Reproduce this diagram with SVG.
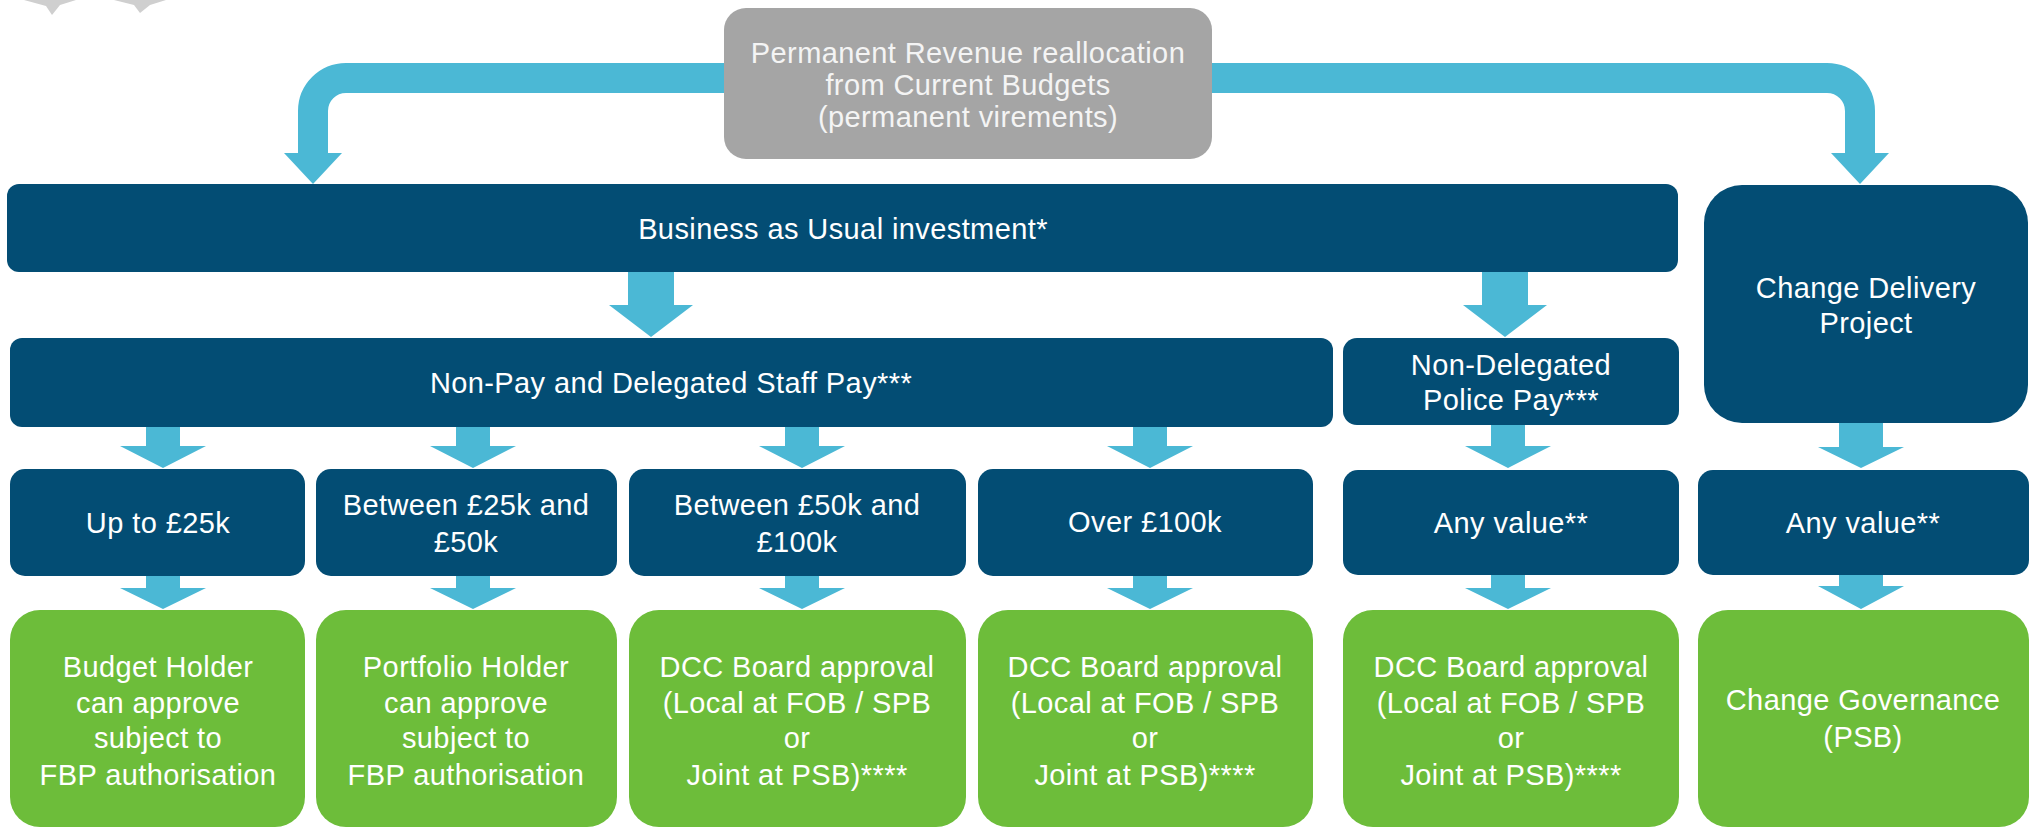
<svg xmlns="http://www.w3.org/2000/svg" width="2034" height="829" viewBox="0 0 2034 829">
<style>
  .navy { fill: #034d74; }
  .green { fill: #6dbd3a; }
  .grey { fill: #a5a5a5; }
  .arrow { fill: #4bb8d5; }
  .logo { fill: #cfcfcf; }
  .link { fill: none; stroke: #4bb8d5; stroke-width: 30; stroke-linecap: butt; }
  text { font-family: "Liberation Sans", Arial, sans-serif; font-size: 29px; letter-spacing: 0.4px; fill: #ffffff; text-anchor: middle; }
  .gt { fill: #f4f4f4; }
</style>
<rect width="2034" height="829" fill="#ffffff"/>

<g id="logo-fragment">
  <polygon class="logo" points="24,0 76,0 60,5 52,15 46,6"/>
  <polygon class="logo" points="114,0 166,0 150,5 140,13 134,5"/>
</g>

<g id="connectors">
  <path class="link" d="M724,78 H346 A33,33 0 0 0 313,111 V154"/>
  <polygon class="arrow" points="284,153 342,153 313,184"/>
  <path class="link" d="M1212,78 H1827 A33,33 0 0 1 1860,111 V154"/>
  <polygon class="arrow" points="1831,153 1889,153 1860,184"/>

  <path class="arrow" d="M628,272 H674 V305 H693 L651,337 L609,305 H628 Z"/>
  <path class="arrow" d="M1482,272 H1528 V305 H1547 L1505,337 L1463,305 H1482 Z"/>

  <path class="arrow" d="M146,427 H180 V446 H206 L163,468 L120,446 H146 Z"/>
  <path class="arrow" d="M456,427 H490 V446 H516 L473,468 L430,446 H456 Z"/>
  <path class="arrow" d="M785,427 H819 V446 H845 L802,468 L759,446 H785 Z"/>
  <path class="arrow" d="M1133,427 H1167 V446 H1193 L1150,468 L1107,446 H1133 Z"/>
  <path class="arrow" d="M1491,425 H1525 V446 H1551 L1508,468 L1465,446 H1491 Z"/>
  <path class="arrow" d="M1839,423 H1883 V447 H1904 L1861,468 L1818,447 H1839 Z"/>

  <path class="arrow" d="M146,576 H180 V588 H206 L163,609 L120,588 H146 Z"/>
  <path class="arrow" d="M456,576 H490 V588 H516 L473,609 L430,588 H456 Z"/>
  <path class="arrow" d="M785,576 H819 V588 H845 L802,609 L759,588 H785 Z"/>
  <path class="arrow" d="M1133,576 H1167 V588 H1193 L1150,609 L1107,588 H1133 Z"/>
  <path class="arrow" d="M1491,575 H1525 V588 H1551 L1508,609 L1465,588 H1491 Z"/>
  <path class="arrow" d="M1839,575 H1883 V586 H1904 L1861,609 L1818,586 H1839 Z"/>
</g>

<g id="source">
  <rect class="grey" x="724" y="8" width="488" height="151" rx="22"/>
  <text class="gt" x="968" y="63">Permanent Revenue reallocation</text>
  <text class="gt" x="968" y="95">from Current Budgets</text>
  <text class="gt" x="968" y="127">(permanent virements)</text>
</g>

<g id="bau">
  <rect class="navy" x="7" y="184" width="1671" height="88" rx="12"/>
  <text x="843" y="239">Business as Usual investment*</text>
</g>

<g id="change-delivery">
  <rect class="navy" x="1704" y="185" width="324" height="238" rx="38"/>
  <text x="1866" y="298">Change Delivery</text>
  <text x="1866" y="333">Project</text>
</g>

<g id="non-pay">
  <rect class="navy" x="10" y="338" width="1323" height="89" rx="12"/>
  <text x="671" y="393">Non-Pay and Delegated Staff Pay***</text>
</g>

<g id="non-delegated">
  <rect class="navy" x="1343" y="338" width="336" height="87" rx="14"/>
  <text x="1511" y="375">Non-Delegated</text>
  <text x="1511" y="410">Police Pay***</text>
</g>

<g id="v-upto25">
  <rect class="navy" x="10" y="469" width="295" height="107" rx="15"/>
  <text x="158" y="533">Up to £25k</text>
</g>
<g id="v-25-50">
  <rect class="navy" x="316" y="469" width="301" height="107" rx="15"/>
  <text x="466" y="515">Between £25k and</text>
  <text x="466" y="552">£50k</text>
</g>
<g id="v-50-100">
  <rect class="navy" x="629" y="469" width="337" height="107" rx="15"/>
  <text x="797" y="515">Between £50k and</text>
  <text x="797" y="552">£100k</text>
</g>
<g id="v-over100">
  <rect class="navy" x="978" y="469" width="335" height="107" rx="15"/>
  <text x="1145" y="532">Over £100k</text>
</g>
<g id="v-any-nd">
  <rect class="navy" x="1343" y="470" width="336" height="105" rx="15"/>
  <text x="1511" y="533">Any value**</text>
</g>
<g id="v-any-change">
  <rect class="navy" x="1698" y="470" width="331" height="105" rx="15"/>
  <text x="1863" y="533">Any value**</text>
</g>

<g id="a-budget-holder">
  <rect class="green" x="10" y="610" width="295" height="217" rx="30"/>
  <text x="158" y="677">Budget Holder</text>
  <text x="158" y="713">can approve</text>
  <text x="158" y="748">subject to</text>
  <text x="158" y="785">FBP authorisation</text>
</g>
<g id="a-portfolio-holder">
  <rect class="green" x="316" y="610" width="301" height="217" rx="30"/>
  <text x="466" y="677">Portfolio Holder</text>
  <text x="466" y="713">can approve</text>
  <text x="466" y="748">subject to</text>
  <text x="466" y="785">FBP authorisation</text>
</g>
<g id="a-dcc-1">
  <rect class="green" x="629" y="610" width="337" height="217" rx="30"/>
  <text x="797" y="677">DCC Board approval</text>
  <text x="797" y="713">(Local at FOB / SPB</text>
  <text x="797" y="748">or</text>
  <text x="797" y="785">Joint at PSB)****</text>
</g>
<g id="a-dcc-2">
  <rect class="green" x="978" y="610" width="335" height="217" rx="30"/>
  <text x="1145" y="677">DCC Board approval</text>
  <text x="1145" y="713">(Local at FOB / SPB</text>
  <text x="1145" y="748">or</text>
  <text x="1145" y="785">Joint at PSB)****</text>
</g>
<g id="a-dcc-3">
  <rect class="green" x="1343" y="610" width="336" height="217" rx="30"/>
  <text x="1511" y="677">DCC Board approval</text>
  <text x="1511" y="713">(Local at FOB / SPB</text>
  <text x="1511" y="748">or</text>
  <text x="1511" y="785">Joint at PSB)****</text>
</g>
<g id="a-change-governance">
  <rect class="green" x="1698" y="610" width="331" height="217" rx="30"/>
  <text x="1863" y="710">Change Governance</text>
  <text x="1863" y="747">(PSB)</text>
</g>
</svg>
